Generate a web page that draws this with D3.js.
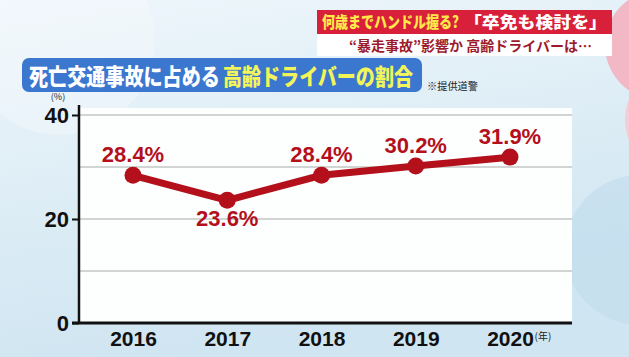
<!DOCTYPE html>
<html><head><meta charset="utf-8">
<script src="https://cdn.jsdelivr.net/npm/d3@7"></script>
<style>body{margin:0;overflow:hidden}svg{display:block}</style>
</head><body>
<svg id="c" width="629" height="357"></svg>
<script>
const years = ["2016","2017","2018","2019","2020"];
const values = [28.4, 23.6, 28.4, 30.2, 31.9];
const labels = ["28.4%","23.6%","28.4%","30.2%","31.9%"];
const labelBelow = [false, true, false, false, false];
const yTicks = [0, 20, 40];
const gridValues = [10, 20, 30, 40];

const F = "'Noto Sans CJK JP','Noto Sans',sans-serif";
const N = "'Liberation Sans',Arial,sans-serif";
const svg = d3.select("#c");
const defs = svg.append("defs");
const bg = defs.append("linearGradient").attr("id","bg").attr("x1",0).attr("y1",0).attr("x2",0.3).attr("y2",1);
bg.append("stop").attr("offset","0").attr("stop-color","#eef6fb");
bg.append("stop").attr("offset","1").attr("stop-color","#cfe5f1");
svg.append("rect").attr("width",629).attr("height",357).attr("fill","url(#bg)");
svg.append("circle").attr("cx",60).attr("cy",40).attr("r",95).attr("fill","#ffffff").attr("opacity",0.25);
svg.append("circle").attr("cx",640).attr("cy",250).attr("r",75).attr("fill","#bfdcec").attr("opacity",0.6);
svg.append("circle").attr("cx",660).attr("cy",45).attr("r",55).attr("fill","#f3b8c5");
svg.append("circle").attr("cx",680).attr("cy",120).attr("r",55).attr("fill","#f6ccd6");

// helper: place text at x and squeeze horizontally to a target width
function fitText(parent, str, x0, yb, width, size, weight, fill) {
  const t = parent.append("text").attr("x",0).attr("y",yb).attr("font-family",F)
    .attr("font-size",size).attr("font-weight",weight).attr("fill",fill).text(str);
  const w = t.node().getComputedTextLength();
  t.attr("transform",`translate(${x0},0) scale(${width/w},1)`);
  return t;
}

// plot area
const x = d3.scalePoint().domain(years).range([133, 510]);
const y = d3.scaleLinear().domain([0, 40]).range([323, 115]);
svg.append("rect").attr("x",79).attr("y",108).attr("width",493).attr("height",215).attr("fill","#fdfefe");

svg.append("g").selectAll("line").data(gridValues).join("line")
  .attr("x1",79).attr("x2",572).attr("y1",d=>y(d)).attr("y2",d=>y(d))
  .attr("stroke","#a8a8a8").attr("stroke-width",1.2);

// y axis
const yAxis = svg.append("g").attr("transform","translate(79,0)")
  .call(d3.axisLeft(y).tickValues(yTicks).tickSize(7).tickPadding(3));
yAxis.select(".domain").attr("stroke","#111").attr("stroke-width",2.5).attr("d","M0,105V323");
yAxis.selectAll(".tick line").attr("stroke","#111").attr("stroke-width",2);
yAxis.selectAll(".tick text").attr("font-family",N).attr("font-size",22).attr("font-weight",700).attr("fill","#111").attr("dy","0.36em");

// x axis
const xAxis = svg.append("g").attr("transform","translate(0,323)")
  .call(d3.axisBottom(x).tickSize(0).tickPadding(8));
xAxis.select(".domain").attr("stroke","#111").attr("stroke-width",3).attr("d","M72,0H572");
xAxis.selectAll(".tick text").attr("font-family",N).attr("font-size",21).attr("font-weight",700).attr("fill","#111");

svg.append("text").attr("x",58).attr("y",100).attr("text-anchor","middle").attr("font-family",F).attr("font-size",9).attr("fill","#222").text("(%)");
svg.append("text").attr("x",543).attr("y",340).attr("text-anchor","middle").attr("font-family",F).attr("font-size",10).attr("fill","#222").text("(年)");

// line
const red = "#b3101c";
svg.append("path").datum(values)
  .attr("d", d3.line().x((d,i)=>x(years[i])).y(d=>y(d)))
  .attr("fill","none").attr("stroke",red).attr("stroke-width",7);
svg.append("g").selectAll("circle").data(values).join("circle")
  .attr("cx",(d,i)=>x(years[i])).attr("cy",d=>y(d)).attr("r",8.5).attr("fill",red);
svg.append("g").selectAll("text").data(values).join("text")
  .attr("x",(d,i)=>x(years[i])).attr("y",(d,i)=>labelBelow[i] ? y(d)+26 : y(d)-13)
  .attr("text-anchor","middle").attr("font-family",N).attr("font-size",22).attr("font-weight",700).attr("fill",red)
  .text((d,i)=>labels[i]);

// top banner
svg.append("rect").attr("x",317).attr("y",10).attr("width",295).attr("height",24).attr("fill","#d9203a");
svg.append("rect").attr("x",317).attr("y",34).attr("width",295).attr("height",22).attr("fill","#ffffff");
fitText(svg, "何歳までハンドル握る?", 322, 28, 137, 16, 900, "#ffe94a");
fitText(svg, "「卒免も検討を」", 464, 28, 143, 16, 900, "#ffffff");
fitText(svg, "“暴走事故”影響か 高齢ドライバーは…", 349, 51, 243, 14, 700, "#9c1a2c");

// title box
svg.append("rect").attr("x",22).attr("y",58).attr("width",400).attr("height",34).attr("rx",7).attr("fill","#3b76cf");
fitText(svg, "死亡交通事故に占める", 29, 85, 191, 23, 900, "#ffffff");
fitText(svg, "高齢ドライバーの割合", 223, 85, 190, 23, 900, "#f2f55a");
fitText(svg, "※提供道警", 427, 90, 51, 10, 400, "#222");
</script>
</body></html>
